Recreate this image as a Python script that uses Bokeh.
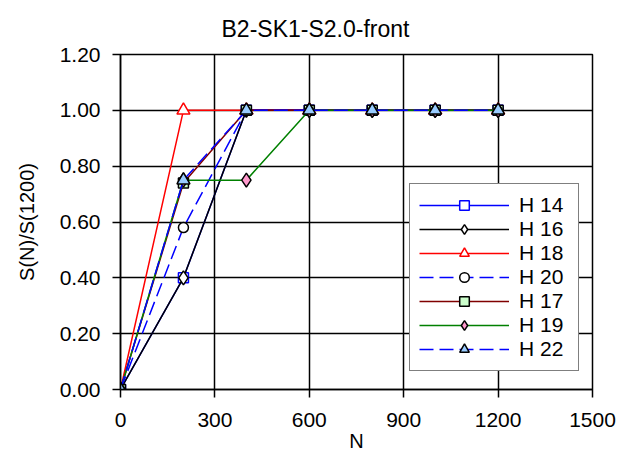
from bokeh.plotting import figure
from bokeh.models import Range1d, FixedTicker, NumeralTickFormatter
from bokeh.embed import file_html
from bokeh.resources import INLINE

# ---- data ----
N_vals = [0, 200, 400, 600, 800, 1000, 1200]
H14 = [0.00, 0.40, 1.00, 1.00, 1.00, 1.00, 1.00]
H16 = [0.00, 0.40, 1.00, 1.00, 1.00, 1.00, 1.00]
H18 = [0.00, 1.00, 1.00, 1.00, 1.00, 1.00, 1.00]
H20 = [0.00, 0.58, 1.00, 1.00, 1.00, 1.00, 1.00]
H17 = [0.00, 0.74, 1.00, 1.00, 1.00, 1.00, 1.00]
H19 = [0.00, 0.75, 0.75, 1.00, 1.00, 1.00, 1.00]
H22 = [0.00, 0.75, 1.00, 1.00, 1.00, 1.00, 1.00]
series_names = ["H 14", "H 16", "H 18", "H 20", "H 17", "H 19", "H 22"]
x_ticks = [0, 300, 600, 900, 1200, 1500]
y_ticks = [0.0, 0.2, 0.4, 0.6, 0.8, 1.0, 1.2]

FONT = "Liberation Sans"

p = figure(width=623, height=456, output_backend="svg", toolbar_location=None,
           x_range=Range1d(0, 1500), y_range=Range1d(0, 1.2),
           min_border_left=120, min_border_right=31, min_border_top=54,
           min_border_bottom=67)
p.background_fill_color = "white"
p.border_fill_color = "white"
p.outline_line_color = "black"
p.outline_line_width = 1.5

p.title.text = "B2-SK1-S2.0-front"
p.title.align = "left"
p.title.text_font = FONT
p.title.text_font_size = "23px"
p.title.text_font_style = "normal"
p.title.text_color = "black"
p.title.standoff = 25
p.title.offset = 101

for ax in (p.xaxis[0], p.yaxis[0]):
    ax.axis_line_color = "black"
    ax.axis_line_width = 1.5
    ax.major_tick_line_color = "black"
    ax.major_tick_line_width = 1.5
    ax.major_tick_in = 0
    ax.major_tick_out = 8
    ax.minor_tick_line_color = None
    ax.major_label_text_font = FONT
    ax.major_label_text_font_size = "21px"
    ax.major_label_text_color = "black"
    ax.axis_label_text_font = FONT
    ax.axis_label_text_font_size = "20px"
    ax.axis_label_text_font_style = "normal"
    ax.axis_label_text_color = "black"

p.xaxis.ticker = FixedTicker(ticks=x_ticks)
p.yaxis.ticker = FixedTicker(ticks=y_ticks)
p.yaxis.formatter = NumeralTickFormatter(format="0.00")
p.xaxis.axis_label = "N"
p.yaxis.axis_label = "S(N)/S(1200)"
p.xaxis.major_label_standoff = 15
p.yaxis.major_label_standoff = 12
p.xaxis.axis_label_standoff = 0
p.yaxis.axis_label_standoff = 19

p.xgrid.grid_line_color = "black"
p.ygrid.grid_line_color = "black"
p.xgrid.grid_line_width = 1.5
p.ygrid.grid_line_width = 1.5
p.xgrid.ticker = FixedTicker(ticks=x_ticks)
p.ygrid.ticker = FixedTicker(ticks=y_ticks)

styles = [
    (H14, "#0000FF", "solid", "square", 10, "#0000FF", "white"),
    (H16, "#000000", "solid", "diamond", 14, "#000000", "white"),
    (H18, "#FF0000", "solid", "triangle", 13, "#FF0000", "white"),
    (H20, "#0000FF", "14 6", "circle", 10, "#000000", "white"),
    (H17, "#800000", "solid", "square", 10, "#000000", "#CCFFCC"),
    (H19, "#008000", "solid", "diamond", 14, "#000000", "#FF99CC"),
    (H22, "#0000FF", "14 6", "triangle", 13, "#000000", "#99CCFF"),
]

for name, (ys, lc, dash, mk, sz, mlc, mfc) in zip(series_names, styles):
    p.line(N_vals, ys, line_color=lc, line_width=1.5, line_dash=dash,
           legend_label=name)
    p.scatter(N_vals, ys, marker=mk, size=sz, line_color=mlc, line_width=1.5,
              fill_color=mfc, legend_label=name)

lg = p.legend[0]
lg.location = (289, 18)
lg.border_line_color = "black"
lg.border_line_width = 1.5
lg.background_fill_color = "white"
lg.background_fill_alpha = 1.0
lg.label_text_font = FONT
lg.label_text_font_size = "21px"
lg.label_text_color = "black"
lg.glyph_width = 90
lg.glyph_height = 24
lg.label_height = 24
lg.label_width = 50
lg.label_standoff = 10
lg.spacing = 0
lg.padding = 9
lg.margin = 0

open("out.html", "w").write(file_html(p, INLINE))
